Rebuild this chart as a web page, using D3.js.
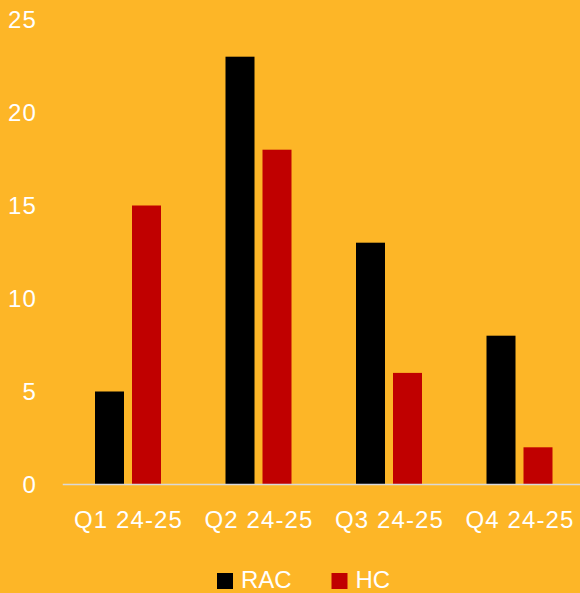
<!DOCTYPE html>
<html>
<head>
<meta charset="utf-8">
<script src="https://cdn.jsdelivr.net/npm/d3@7"></script>
<style>
  html, body { margin: 0; padding: 0; background: #FDB627; }
  svg { display: block; }
</style>
</head>
<body>
<div id="chart"></div>
<script>
const categories = ["Q1 24-25", "Q2 24-25", "Q3 24-25", "Q4 24-25"];
const seriesNames = ["RAC", "HC"];
const racValues = [5, 23, 13, 8];
const hcValues = [15, 18, 6, 2];
const yTicks = [0, 5, 10, 15, 20, 25];
const colors = { RAC: "#000000", HC: "#C00000" };

const width = 580, height = 593;
const font = "'Liberation Sans', Arial, sans-serif";

const svg = d3.select("#chart").append("svg")
    .attr("width", width)
    .attr("height", height);

svg.append("rect")
    .attr("width", width).attr("height", height)
    .attr("fill", "#FDB627");

const x = d3.scaleBand().domain(categories).range([62.75, 584.75]).padding(0);
const groupW = 66;
const x1 = d3.scaleBand().domain(seriesNames)
    .range([(x.bandwidth() - groupW) / 2, (x.bandwidth() + groupW) / 2])
    .paddingInner(8 / 37);
const y = d3.scaleLinear().domain([0, 25]).range([484.5, 19.5]);

const rows = categories.map((c, i) => ({ cat: c, RAC: racValues[i], HC: hcValues[i] }));

// y labels (no gridlines)
svg.append("g").selectAll("text")
    .data(yTicks)
    .join("text")
    .attr("x", 37)
    .attr("y", d => y(d))
    .attr("dy", "0.35em")
    .attr("text-anchor", "end")
    .attr("fill", "#fff")
    .attr("font-family", font)
    .attr("font-size", 24)
    .attr("letter-spacing", 1.2)
    .text(d => d);

// bars
const groups = svg.append("g").selectAll("g")
    .data(rows)
    .join("g")
    .attr("transform", d => `translate(${x(d.cat)},0)`);

groups.selectAll("rect")
    .data(d => seriesNames.map(s => ({ s, v: d[s] })))
    .join("rect")
    .attr("x", d => x1(d.s))
    .attr("y", d => y(d.v))
    .attr("width", x1.bandwidth())
    .attr("height", d => y(0) - y(d.v))
    .attr("fill", d => colors[d.s]);

// baseline
svg.append("line")
    .attr("x1", 62.75).attr("x2", 584.75)
    .attr("y1", y(0)).attr("y2", y(0))
    .attr("stroke", "#D9D9D9")
    .attr("stroke-width", 1.5);

// x labels
svg.append("g").selectAll("text")
    .data(categories)
    .join("text")
    .attr("x", d => x(d) + x.bandwidth() / 2 + 0.5)
    .attr("y", 528)
    .attr("text-anchor", "middle")
    .attr("fill", "#fff")
    .attr("font-family", font)
    .attr("font-size", 24)
    .attr("letter-spacing", 1.1)
    .text(d => d);

// legend
const legendX = [217, 331.5];
const legend = svg.append("g").selectAll("g")
    .data(seriesNames)
    .join("g")
    .attr("transform", (d, i) => `translate(${legendX[i]},573)`);
legend.append("rect")
    .attr("width", 16).attr("height", 16)
    .attr("fill", d => colors[d]);
legend.append("text")
    .attr("x", 24).attr("y", 15)
    .attr("fill", "#fff")
    .attr("font-family", font)
    .attr("font-size", 24)
    .text(d => d);
</script>
</body>
</html>
